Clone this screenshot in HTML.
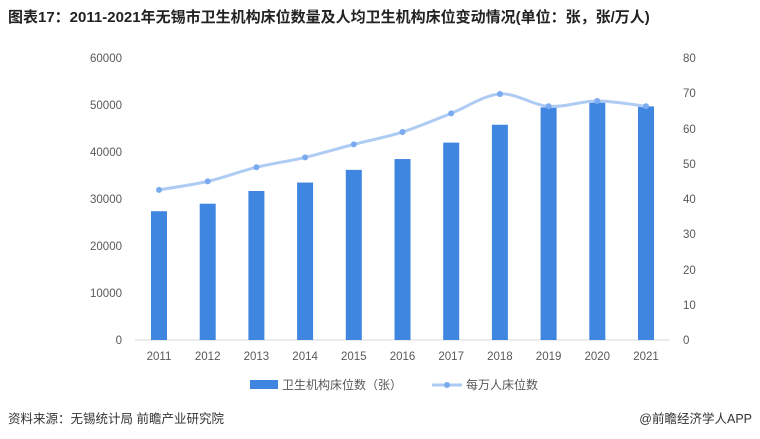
<!DOCTYPE html>
<html><head><meta charset="utf-8"><style>
body{margin:0;width:760px;height:439px;background:#fff;font-family:"Liberation Sans","Noto Sans CJK SC",sans-serif;overflow:hidden;position:relative}
.t{position:absolute;left:8px;top:6px;font-size:15px;font-weight:bold;color:#222}
.f{position:absolute;top:408px;font-size:12.5px;color:#333}
</style></head><body>
<div class="t">图表17：2011-2021年无锡市卫生机构床位数量及人均卫生机构床位变动情况(单位：张，张/万人)</div>
<svg width="760" height="439" style="position:absolute;left:0;top:0" font-family="Liberation Sans, Noto Sans CJK SC, sans-serif">
<g font-size="11.5" fill="#595959">
<text x="122" y="62" text-anchor="end">60000</text>
<text x="122" y="109" text-anchor="end">50000</text>
<text x="122" y="156" text-anchor="end">40000</text>
<text x="122" y="203" text-anchor="end">30000</text>
<text x="122" y="250" text-anchor="end">20000</text>
<text x="122" y="297" text-anchor="end">10000</text>
<text x="122" y="344" text-anchor="end">0</text>
<text x="683" y="62">80</text><text x="683" y="97">70</text><text x="683" y="133">60</text><text x="683" y="168">50</text><text x="683" y="203">40</text><text x="683" y="238">30</text><text x="683" y="274">20</text><text x="683" y="309">10</text><text x="683" y="344">0</text>
</g>
<line x1="135" y1="340" x2="670" y2="340" stroke="#d9d9d9"/>
<g fill="#3f86e0" id="b"></g>
<g font-size="11.5" fill="#595959" text-anchor="middle" id="xl"></g>
<path id="ln" fill="none" stroke="#aecbf3" stroke-width="3"/>
<g id="pts" fill="#7aaaf0"></g>
<rect x="250" y="380" width="28" height="9" fill="#3f86e0"/>
<text x="282" y="389" font-size="12" fill="#595959">卫生机构床位数（张）</text>
<line x1="432" y1="385" x2="462" y2="385" stroke="#aecbf3" stroke-width="3"/>
<circle cx="447" cy="385" r="3" fill="#7aaaf0"/>
<text x="466" y="389" font-size="12" fill="#595959">每万人床位数</text>
</svg>
<div class="f" style="left:8px">资料来源：无锡统计局 前瞻产业研究院</div>
<div class="f" style="right:8px">@前瞻经济学人APP</div>
<script>
var b=[27400,29000,31700,33500,36200,38500,42000,45800,49500,50500,49700];
var l=[42.6,45,49,51.8,55.5,59,64.3,69.8,66.3,67.8,66.3];
var ns="http://www.w3.org/2000/svg",B=document.getElementById("b"),X=document.getElementById("xl"),P=document.getElementById("pts");
var pts=[];
for(var i=0;i<11;i++){var x=159+i*48.7;
var h=b[i]*0.0047;var r=document.createElementNS(ns,"rect");r.setAttribute("x",x-8);r.setAttribute("y",340-h);r.setAttribute("width",16);r.setAttribute("height",h);B.appendChild(r);
var t=document.createElementNS(ns,"text");t.setAttribute("x",x);t.setAttribute("y",360);t.textContent=2011+i;X.appendChild(t);
var y=340-l[i]*3.525;pts.push([x,y]);var c=document.createElementNS(ns,"circle");c.setAttribute("cx",x);c.setAttribute("cy",y);c.setAttribute("r",3);P.appendChild(c);}
var d="M"+pts[0];for(var i=0;i<10;i++){var p0=pts[i-1]||pts[i],p1=pts[i],p2=pts[i+1],p3=pts[i+2]||p2;
d+=" C"+(p1[0]+(p2[0]-p0[0])/6)+","+(p1[1]+(p2[1]-p0[1])/6)+" "+(p2[0]-(p3[0]-p1[0])/6)+","+(p2[1]-(p3[1]-p1[1])/6)+" "+p2[0]+","+p2[1];}
document.getElementById("ln").setAttribute("d",d);
</script>
</body></html>
